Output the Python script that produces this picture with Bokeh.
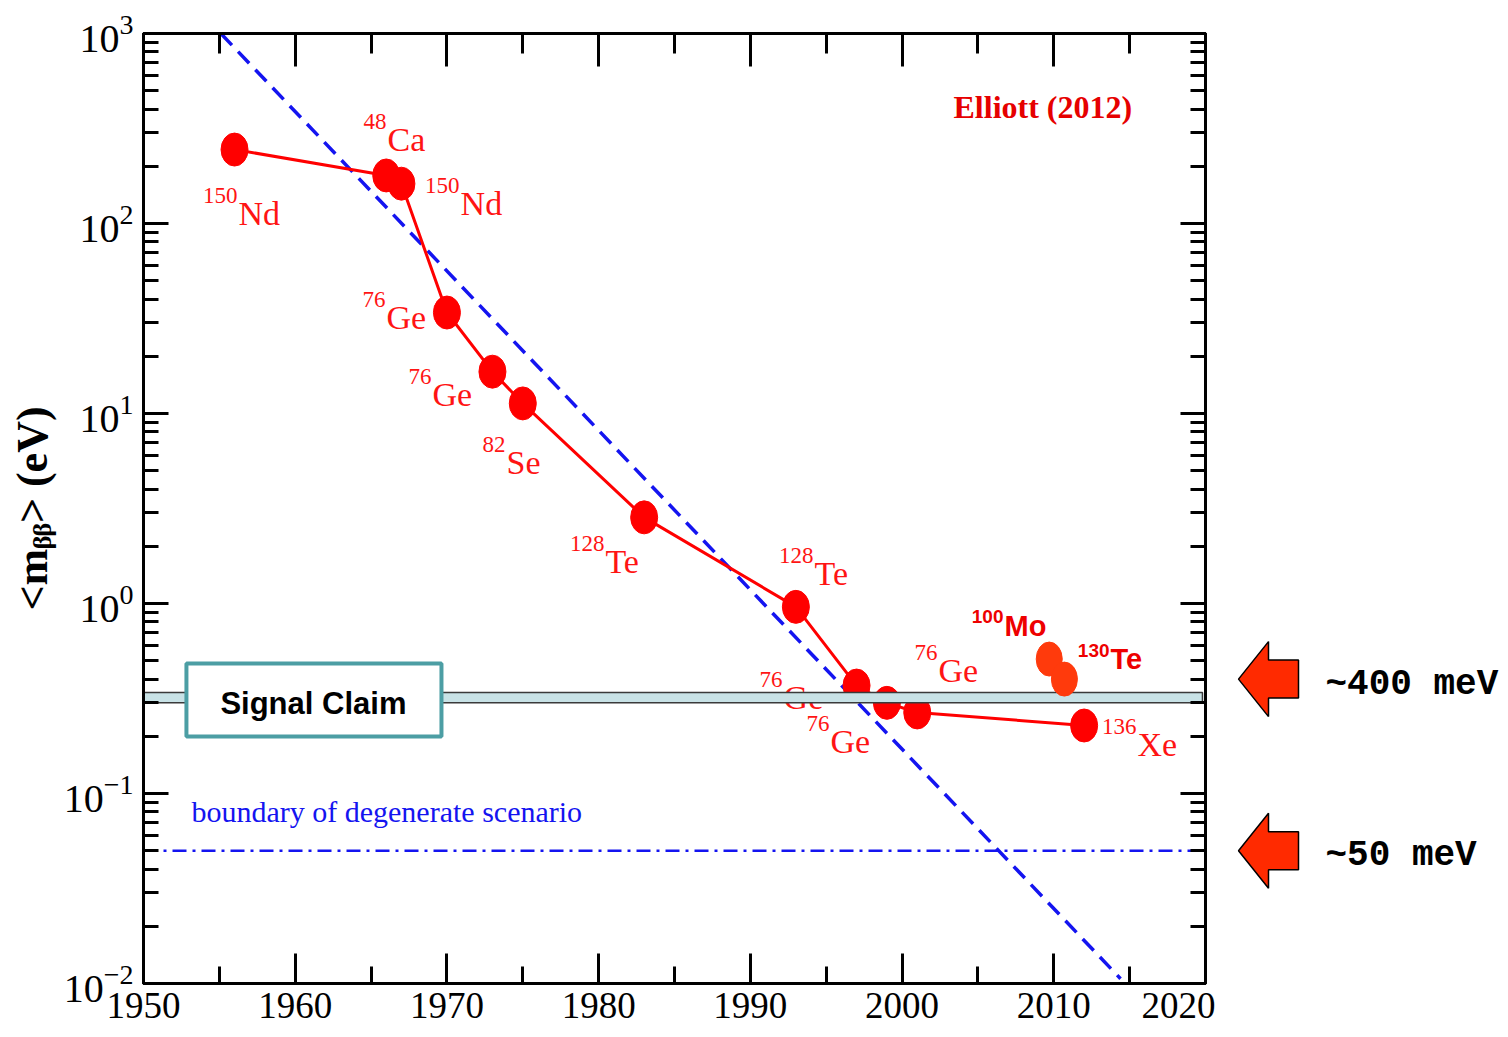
import numpy as np
from bokeh.plotting import figure
from bokeh.models import (Range1d, LogAxis, LinearAxis, SingleIntervalTicker,
                          LogTicker, ColumnDataSource)
from bokeh.layouts import row
from bokeh.embed import file_html
from bokeh.resources import INLINE
from bokeh.core.properties import value

# ---------------- data ----------------
years = [1956, 1966, 1967, 1970, 1973, 1975, 1983, 1993, 1997, 1999, 2001, 2012]
mbb = [245, 179, 162, 34.0, 16.6, 11.3, 2.84, 0.96, 0.37, 0.30, 0.267, 0.228]

new_years = [2009.7, 2010.7]          # 100Mo, 130Te
new_mbb = [0.51, 0.40]

trend_years = [1955.1, 2014.4]
trend_mbb = [1000.0, 0.0106]

boundary_mbb = 0.05
claim_low, claim_high = 0.30, 0.34
arrow_levels = [0.4, 0.05]
arrow_texts = ["~400 meV", "~50 meV"]

label_mass = ["150", "48", "150", "76", "76", "82", "128", "128", "76", "76", "76", "136"]
label_elem = ["Nd", "Ca", "Nd", "Ge", "Ge", "Se", "Te", "Te", "Ge", "Ge", "Ge", "Xe"]
label_x = [1956.26, 1966.08, 1970.90, 1966.02, 1969.05, 1973.93, 1980.45, 1994.23,
           1992.19, 1995.28, 2002.40, 2015.52]
label_y = [98.8, 242.0, 111.5, 28.0, 11.0, 4.85, 1.46, 1.26, 0.280, 0.164, 0.389, 0.158]

new_mass = ["100", "130"]
new_elem = ["Mo", "Te"]
new_lx = [2006.75, 2013.74]
new_ly = [0.670, 0.444]

x_ticks_interval = 10
RED = "#ff0000"
BLUE = "#1414f0"
SHIFT = -11   # baseline correction in screen pixels

# ---------------- main figure ----------------
yr = Range1d(1e-2, 1e3)
p = figure(width=1215, height=1037, x_range=Range1d(1950, 2020), y_range=yr,
           y_axis_type="log", output_backend="svg", toolbar_location=None,
           min_border_left=143, min_border_right=10, min_border_top=33,
           min_border_bottom=54, background_fill_color="white",
           border_fill_color="white")
p.xgrid.visible = False
p.ygrid.visible = False
p.outline_line_color = "black"
p.outline_line_width = 3

bottom_ax = p.below[0]
left_ax = p.left[0]
bottom_ax.ticker = SingleIntervalTicker(interval=x_ticks_interval, num_minor_ticks=2)
left_ax.ticker = LogTicker(num_minor_ticks=10)

top_ax = LinearAxis(ticker=SingleIntervalTicker(interval=x_ticks_interval, num_minor_ticks=2))
right_ax = LogAxis(ticker=LogTicker(num_minor_ticks=10))
p.add_layout(top_ax, "above")
p.add_layout(right_ax, "right")


def style(ax, major_in, minor_in, labels=True, size="40px"):
    ax.axis_line_width = 3
    ax.axis_line_color = "black"
    ax.major_tick_line_width = 3
    ax.minor_tick_line_width = 3
    ax.major_tick_out = 0
    ax.minor_tick_out = 0
    ax.major_tick_in = major_in
    ax.minor_tick_in = minor_in
    if labels:
        ax.major_label_text_font = "Liberation Serif"
        ax.major_label_text_font_size = size
        ax.major_label_text_color = "black"
    else:
        ax.major_label_text_font_size = "1px"
        ax.major_label_text_color = None
        ax.major_label_standoff = 0


style(bottom_ax, 30, 17, size="37px")
bottom_ax.major_label_standoff = 9
style(top_ax, 33, 20, labels=False)
style(left_ax, 25, 15)
left_ax.major_label_standoff = 10
style(right_ax, 25, 15, labels=False)

left_ax.axis_label = "<m\u1d66\u1d66> (eV)"
left_ax.axis_label_text_font = "Liberation Serif"
left_ax.axis_label_text_font_size = "44px"
left_ax.axis_label_text_font_style = "bold"
left_ax.axis_label_text_color = "black"
left_ax.axis_label_standoff = 4

# trend line and boundary
p.line(trend_years, trend_mbb, line_color=BLUE, line_width=3.5, line_dash="16 9")
p.line([1950, 2020], [boundary_mbb, boundary_mbb], line_color=BLUE, line_width=2.5,
       line_dash="14 6 3 6")

# history of limits
p.line(years, mbb, line_color=RED, line_width=3)
p.ellipse(years, mbb, width=27, height=33, width_units="screen", height_units="screen",
          fill_color=RED, line_color=RED)

src = ColumnDataSource(dict(x=label_x, y=label_y, elem=label_elem, mass=label_mass))
p.text(x="x", y="y", text="elem", source=src, text_font=value("Liberation Serif"),
       text_font_size="34px", text_color="#ff1414", text_align="left",
       text_baseline="alphabetic", y_offset=SHIFT)
p.text(x="x", y="y", text="mass", source=src, text_font=value("Liberation Serif"),
       text_font_size="23px", text_color="#ff1414", text_align="right",
       text_baseline="alphabetic", x_offset=-1, y_offset=SHIFT - 18)

# signal claim band
p.quad(left=[1950], right=[2019.8], bottom=[claim_low], top=[claim_high],
       fill_color="#c8e2e6", line_color="#3a3a3a", line_width=1.5)

# new results
p.ellipse(new_years, new_mbb, width=26, height=34, width_units="screen",
          height_units="screen", fill_color="#ff3a0c", line_color="#ff3a0c")
nsrc = ColumnDataSource(dict(x=new_lx, y=new_ly, elem=new_elem, mass=new_mass))
p.text(x="x", y="y", text="elem", source=nsrc, text_font=value("Liberation Sans"),
       text_font_style="bold", text_font_size="29px", text_color="#ee0000",
       text_align="left", text_baseline="alphabetic", y_offset=SHIFT)
p.text(x="x", y="y", text="mass", source=nsrc, text_font=value("Liberation Sans"),
       text_font_style="bold", text_font_size="19px", text_color="#ee0000",
       text_align="right", text_baseline="alphabetic", x_offset=-1, y_offset=SHIFT - 9)

# Signal Claim box
p.quad(left=[1952.83], right=[1969.64], bottom=[0.1995], top=[0.483],
       fill_color="white", line_color="#4c9ea4", line_width=4)
p.text(x=[1961.2], y=[0.298], text=["Signal Claim"], text_font=value("Liberation Sans"),
       text_font_style="bold", text_font_size="31px", text_color="black",
       text_align="center", text_baseline="middle")

p.text(x=[2003.39], y=[361], text=["Elliott (2012)"], text_font=value("Liberation Serif"),
       text_font_style="bold", text_font_size="32px", text_color="#e60000",
       text_align="left", text_baseline="alphabetic", y_offset=SHIFT)
p.text(x=[1953.16], y=[0.0704], text=["boundary of degenerate scenario"],
       text_font=value("Liberation Serif"), text_font_size="30px", text_color=BLUE,
       text_align="left", text_baseline="alphabetic", y_offset=SHIFT)

# ---------------- right-hand arrows ----------------
q = figure(width=293, height=1037, x_range=Range1d(0, 293), y_range=yr,
           y_axis_type="log", output_backend="svg", toolbar_location=None,
           min_border_left=0, min_border_right=0, min_border_top=33,
           min_border_bottom=54, outline_line_color=None,
           background_fill_color="white", border_fill_color="white")
q.axis.visible = False
q.xgrid.visible = False
q.ygrid.visible = False

# arrow outline: x in screen pixels, half-heights in pixels
ax_pts = [23, 53, 53, 83, 83, 53, 53]
dy_pts = [0, 37.5, 19, 19, -19, -19, -37.5]
xs, ys = [], []
for lvl in arrow_levels:
    xs.append(ax_pts)
    ys.append([lvl * 10 ** (d / 190.0) for d in dy_pts])
q.patches(xs, ys, fill_color="#ff2a00", line_color="black", line_width=1.5)
q.text(x=[110, 110], y=arrow_levels, text=arrow_texts, text_font=value("Liberation Mono"),
       text_font_style="bold", text_font_size="36px", text_color="black",
       text_align="left", text_baseline="middle", y_offset=5)

layout = row(p, q)
open("out.html", "w").write(file_html(layout, INLINE))
